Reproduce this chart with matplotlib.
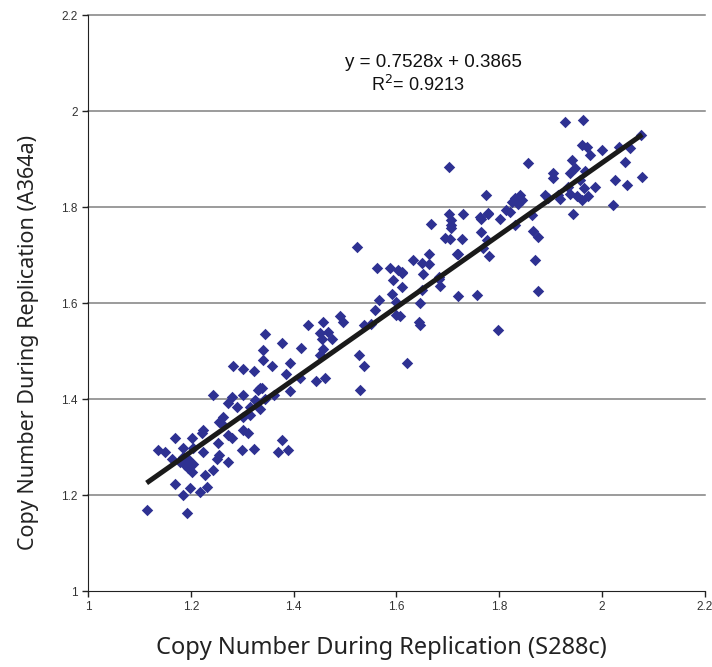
import matplotlib
matplotlib.use("Agg")
import matplotlib.pyplot as plt
import numpy as np

# S288c copy number (x) and A364a copy number (y)
x_vals = [
    1.244, 1.280, 1.302, 1.331, 1.338, 1.361, 1.392, 1.273, 1.289, 1.315,
    1.325, 1.302, 1.315, 1.263, 1.254, 1.260, 1.224, 1.221, 1.273, 1.280,
    1.302, 1.312, 1.377, 1.370, 1.390, 1.299, 1.322, 1.252, 1.202, 1.169,
    1.137, 1.150, 1.185, 1.205, 1.224, 1.163, 1.179, 1.189, 1.195, 1.202,
    1.254, 1.250, 1.273, 1.244, 1.228, 1.169, 1.198, 1.185, 1.218, 1.231,
    1.114, 1.192, 1.185, 1.195, 1.205, 1.335, 1.345,
    1.377, 1.392, 1.385, 1.412, 1.414, 1.427, 1.444, 1.461, 1.451, 1.458,
    1.455, 1.467, 1.474, 1.458, 1.451, 1.490, 1.497, 1.527, 1.536, 1.530,
    1.536, 1.550, 1.558, 1.567, 1.600, 1.591, 1.600, 1.620, 1.643, 1.646,
    1.649, 1.610, 1.593, 1.588, 1.562, 1.604, 1.610, 1.633, 1.649, 1.664,
    1.651, 1.682, 1.685, 1.720, 1.524, 1.645,
    1.703, 1.855, 1.774, 1.960, 1.970, 1.977, 1.941, 1.947, 1.938, 1.905,
    1.905, 1.957, 1.967, 1.986, 1.964, 1.934, 1.938, 1.915, 1.918, 1.895,
    1.889, 1.951, 1.960, 1.973, 1.944, 1.840, 1.844, 1.831, 1.837, 1.824,
    1.814, 1.821, 1.802, 1.831, 1.863, 1.866, 1.876, 1.870, 1.876, 1.765,
    1.778, 1.764, 1.776, 1.769, 1.781, 1.730, 1.703, 1.707, 1.707, 1.695,
    1.704, 1.727, 1.717, 1.756, 1.798,
    1.928, 1.962, 1.999, 2.032, 2.054, 2.076, 2.045, 2.025, 2.048, 2.078,
    2.022,
    1.668, 1.707, 1.763, 1.779, 1.720, 1.664, 1.610, 1.682, 1.607,
    1.344, 1.341, 1.341, 1.357, 1.283, 1.301, 1.322, 1.335,
]
y_vals = [
    1.408, 1.405, 1.408, 1.419, 1.423, 1.408, 1.417, 1.391, 1.384, 1.384,
    1.398, 1.363, 1.367, 1.363, 1.353, 1.349, 1.335, 1.329, 1.325, 1.318,
    1.335, 1.329, 1.315, 1.290, 1.294, 1.294, 1.295, 1.309, 1.318, 1.318,
    1.294, 1.290, 1.297, 1.297, 1.290, 1.276, 1.269, 1.263, 1.256, 1.249,
    1.283, 1.276, 1.269, 1.252, 1.242, 1.224, 1.214, 1.200, 1.207, 1.217,
    1.169, 1.162, 1.280, 1.275, 1.265, 1.380, 1.400,
    1.517, 1.476, 1.453, 1.443, 1.507, 1.554, 1.438, 1.443, 1.537, 1.561,
    1.526, 1.540, 1.526, 1.505, 1.492, 1.572, 1.561, 1.492, 1.469, 1.419,
    1.554, 1.556, 1.585, 1.606, 1.575, 1.618, 1.603, 1.476, 1.561, 1.599,
    1.627, 1.634, 1.648, 1.672, 1.672, 1.669, 1.663, 1.690, 1.683, 1.681,
    1.660, 1.655, 1.635, 1.615, 1.717, 1.555,
    1.884, 1.891, 1.826, 1.929, 1.926, 1.908, 1.898, 1.881, 1.870, 1.870,
    1.860, 1.856, 1.874, 1.842, 1.839, 1.842, 1.828, 1.825, 1.816, 1.818,
    1.825, 1.822, 1.815, 1.822, 1.785, 1.826, 1.815, 1.818, 1.807, 1.811,
    1.794, 1.790, 1.776, 1.763, 1.783, 1.749, 1.738, 1.690, 1.626, 1.776,
    1.786, 1.747, 1.732, 1.714, 1.697, 1.785, 1.786, 1.773, 1.757, 1.735,
    1.733, 1.733, 1.703, 1.617, 1.544,
    1.978, 1.981, 1.919, 1.924, 1.922, 1.950, 1.894, 1.856, 1.846, 1.863,
    1.804,
    1.764, 1.762, 1.780, 1.788, 1.703, 1.703, 1.665, 1.649, 1.573,
    1.535, 1.502, 1.481, 1.469, 1.469, 1.462, 1.458, 1.422,
]

slope = 0.7528
intercept = 0.3865
r_squared = 0.9213

x_ticks = [1, 1.2, 1.4, 1.6, 1.8, 2, 2.2]
y_ticks = [1, 1.2, 1.4, 1.6, 1.8, 2, 2.2]
x_tick_labels = ["1", "1.2", "1.4", "1.6", "1.8", "2", "2.2"]
y_tick_labels = ["1", "1.2", "1.4", "1.6", "1.8", "2", "2.2"]

fig = plt.figure(figsize=(7.12, 6.67), dpi=100)
ax = fig.add_axes([0.1236, 0.1139, 0.990 - 0.1236, 0.9775 - 0.1139])

ax.set_xlim(1, 2.2)
ax.set_ylim(1, 2.2)

for yt in y_ticks[1:]:
    ax.axhline(yt, color="#808080", lw=1.1, zorder=0, clip_on=False)

ax.scatter(x_vals, y_vals, marker="D", s=34, color="#2E3192", linewidths=0, zorder=2)

xs = np.array([min(x_vals), max(x_vals)])
ax.plot(xs, slope * xs + intercept, color="#1a1a1a", lw=3.6, zorder=3, solid_capstyle="butt")

ax.set_xticks(x_ticks)
ax.set_xticklabels(x_tick_labels)
ax.set_yticks(y_ticks)
ax.set_yticklabels(y_tick_labels)
ax.tick_params(direction="out", length=4, width=1, colors="#222222", labelsize=8.5,
               labelcolor="#333333")
for lab in ax.get_xticklabels() + ax.get_yticklabels():
    lab.set_family("Liberation Sans")

ax.spines["top"].set_visible(False)
ax.spines["right"].set_visible(False)
ax.spines["left"].set_color("#222222")
ax.spines["bottom"].set_color("#222222")

ax.set_xlabel("Copy Number During Replication (S288c)", fontsize=17, family="Noto Sans",
              color="#222222")
ax.set_ylabel("Copy Number During Replication (A364a)", fontsize=15.5, family="Noto Sans",
              color="#222222")
ax.xaxis.set_label_coords(0.475, -0.099)
ax.yaxis.set_label_coords(-0.097, 0.432)
ax.xaxis.label.set_verticalalignment("center")
ax.yaxis.label.set_verticalalignment("center")

ax.text(1.5, 2.102, "y = 0.7528x + 0.3865", fontsize=13.5, family="Liberation Sans",
        ha="left", va="center", color="#111111")
ax.text(1.55, 2.054, "R$^2$= 0.9213", fontsize=13, family="Liberation Sans",
        ha="left", va="center", color="#111111")

fig.savefig("out.png", dpi=100)
